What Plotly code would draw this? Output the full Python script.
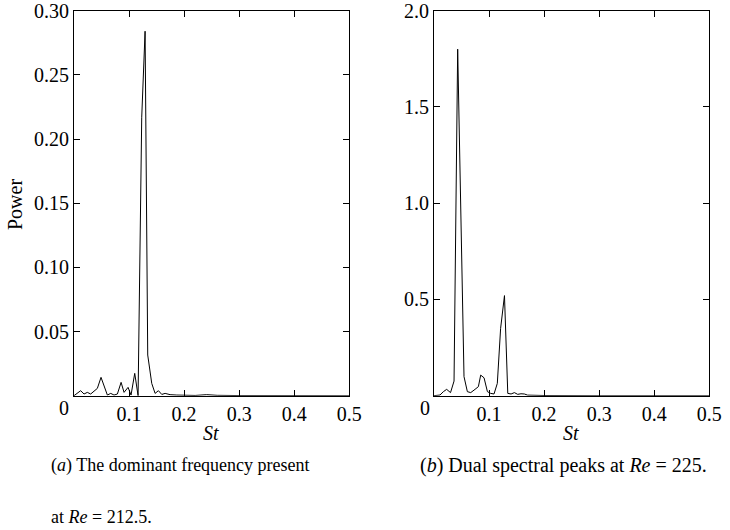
import plotly.graph_objects as go

# Panel (a): Re = 212.5
st_a = [0.0, 0.0121, 0.0182, 0.0242, 0.0303, 0.0424, 0.0491, 0.0606, 0.0667, 0.0727,
        0.0788, 0.0855, 0.0909, 0.0982, 0.1036, 0.1103, 0.1164, 0.1230, 0.1291, 0.1339,
        0.1412, 0.1473, 0.1533, 0.1594, 0.1655, 0.1745, 0.1867, 0.1988, 0.2200, 0.2410,
        0.2600, 0.3000, 0.4000, 0.5000]
power_a = [0.0, 0.0039, 0.0013, 0.0026, 0.0013, 0.0057, 0.0143, 0.0005, 0.0018, 0.0005,
           0.0013, 0.0104, 0.0026, 0.0065, 0.0005, 0.0174, 0.0, 0.217, 0.284, 0.0317,
           0.0096, 0.0018, 0.0039, 0.0010, 0.0018, 0.0008, 0.0005, 0.0003, 0.0002, 0.0008,
           0.0003, 0.0001, 0.0, 0.0]

# Panel (b): Re = 225
st_b = [0.0, 0.0109, 0.0170, 0.0230, 0.0300, 0.0364, 0.0430, 0.0545, 0.0606, 0.0667,
        0.0745, 0.0806, 0.0848, 0.0909, 0.0970, 0.1030, 0.1090, 0.1150, 0.1210, 0.1280,
        0.1340, 0.1400, 0.1460, 0.1520, 0.1580, 0.1640, 0.1700, 0.2000, 0.3000, 0.4000, 0.5000]
power_b = [0.0, 0.0035, 0.021, 0.033, 0.016, 0.076, 1.80, 0.099, 0.021, 0.016,
           0.033, 0.047, 0.107, 0.093, 0.021, 0.012, 0.009, 0.064, 0.35, 0.52,
           0.012, 0.009, 0.016, 0.007, 0.010, 0.009, 0.003, 0.001, 0.0, 0.0, 0.0]

x_ticks = [0.1, 0.2, 0.3, 0.4, 0.5]
y_ticks_a = [0.05, 0.10, 0.15, 0.20, 0.25, 0.30]
y_ticks_b = [0.5, 1.0, 1.5, 2.0]

FONT = "Liberation Serif, Times New Roman, serif"
TICK_SIZE = 20
TEXT_SIZE = 20
W, H = 730, 530

fig = go.Figure()
fig.add_trace(go.Scatter(x=st_a, y=power_a, mode="lines", line=dict(color="black", width=1),
                         xaxis="x", yaxis="y", showlegend=False, hoverinfo="skip"))
fig.add_trace(go.Scatter(x=st_b, y=power_b, mode="lines", line=dict(color="black", width=1),
                         xaxis="x2", yaxis="y2", showlegend=False, hoverinfo="skip"))

common_axis = dict(showgrid=False, zeroline=False, showline=True, linecolor="black",
                   linewidth=1.2, mirror="ticks", ticks="inside", ticklen=6,
                   tickwidth=1, tickcolor="black", ticklabeloverflow="allow",
                   automargin=False,
                   tickfont=dict(family=FONT, size=TICK_SIZE, color="black"))

y_dom = [(H - 395.7) / H, (H - 10.7) / H]

fig.update_layout(
    width=W, height=H, autosize=False,
    margin=dict(l=0, r=0, t=0, b=0, pad=0),
    paper_bgcolor="white", plot_bgcolor="white",
    font=dict(family=FONT, size=TEXT_SIZE, color="black"),
    xaxis=dict(domain=[74 / W, 349.3 / W], range=[0, 0.5], tickvals=x_ticks,
               ticktext=[f"{v:.1f}" for v in x_ticks], anchor="y", **common_axis),
    yaxis=dict(domain=y_dom, range=[0, 0.30], tickvals=y_ticks_a,
               ticktext=[f"{v:.2f}" for v in y_ticks_a], anchor="x", **common_axis),
    xaxis2=dict(domain=[434 / W, 709.3 / W], range=[0, 0.5], tickvals=x_ticks,
                ticktext=[f"{v:.1f}" for v in x_ticks], anchor="y2", **common_axis),
    yaxis2=dict(domain=y_dom, range=[0, 2.0], tickvals=y_ticks_b,
                ticktext=[f"{v:.1f}" for v in y_ticks_b], anchor="x2", **common_axis),
)

def ann(text, x, y, xanchor="center", yanchor="middle", textangle=0, size=TEXT_SIZE):
    fig.add_annotation(text=text, x=x / W, y=1 - y / H, xref="paper", yref="paper",
                       xanchor=xanchor, yanchor=yanchor, showarrow=False,
                       textangle=textangle, font=dict(family=FONT, size=size, color="black"))

ann("0", 64, 408, size=TICK_SIZE)
ann("0", 425, 408, size=TICK_SIZE)
ann("<i>St</i>", 211, 433)
ann("<i>St</i>", 571, 433)
ann("Power", 15, 205, textangle=-90)
ann("(<i>a</i>) The dominant frequency present", 49, 465, xanchor="left", size=18)
ann("at <i>Re</i> = 212.5.", 49, 517, xanchor="left", size=18)
ann("(<i>b</i>) Dual spectral peaks at <i>Re</i> = 225.", 418, 465, xanchor="left")

fig.write_html("out.html", config={"displayModeBar": False},
               post_script="document.body.style.margin='0';")
